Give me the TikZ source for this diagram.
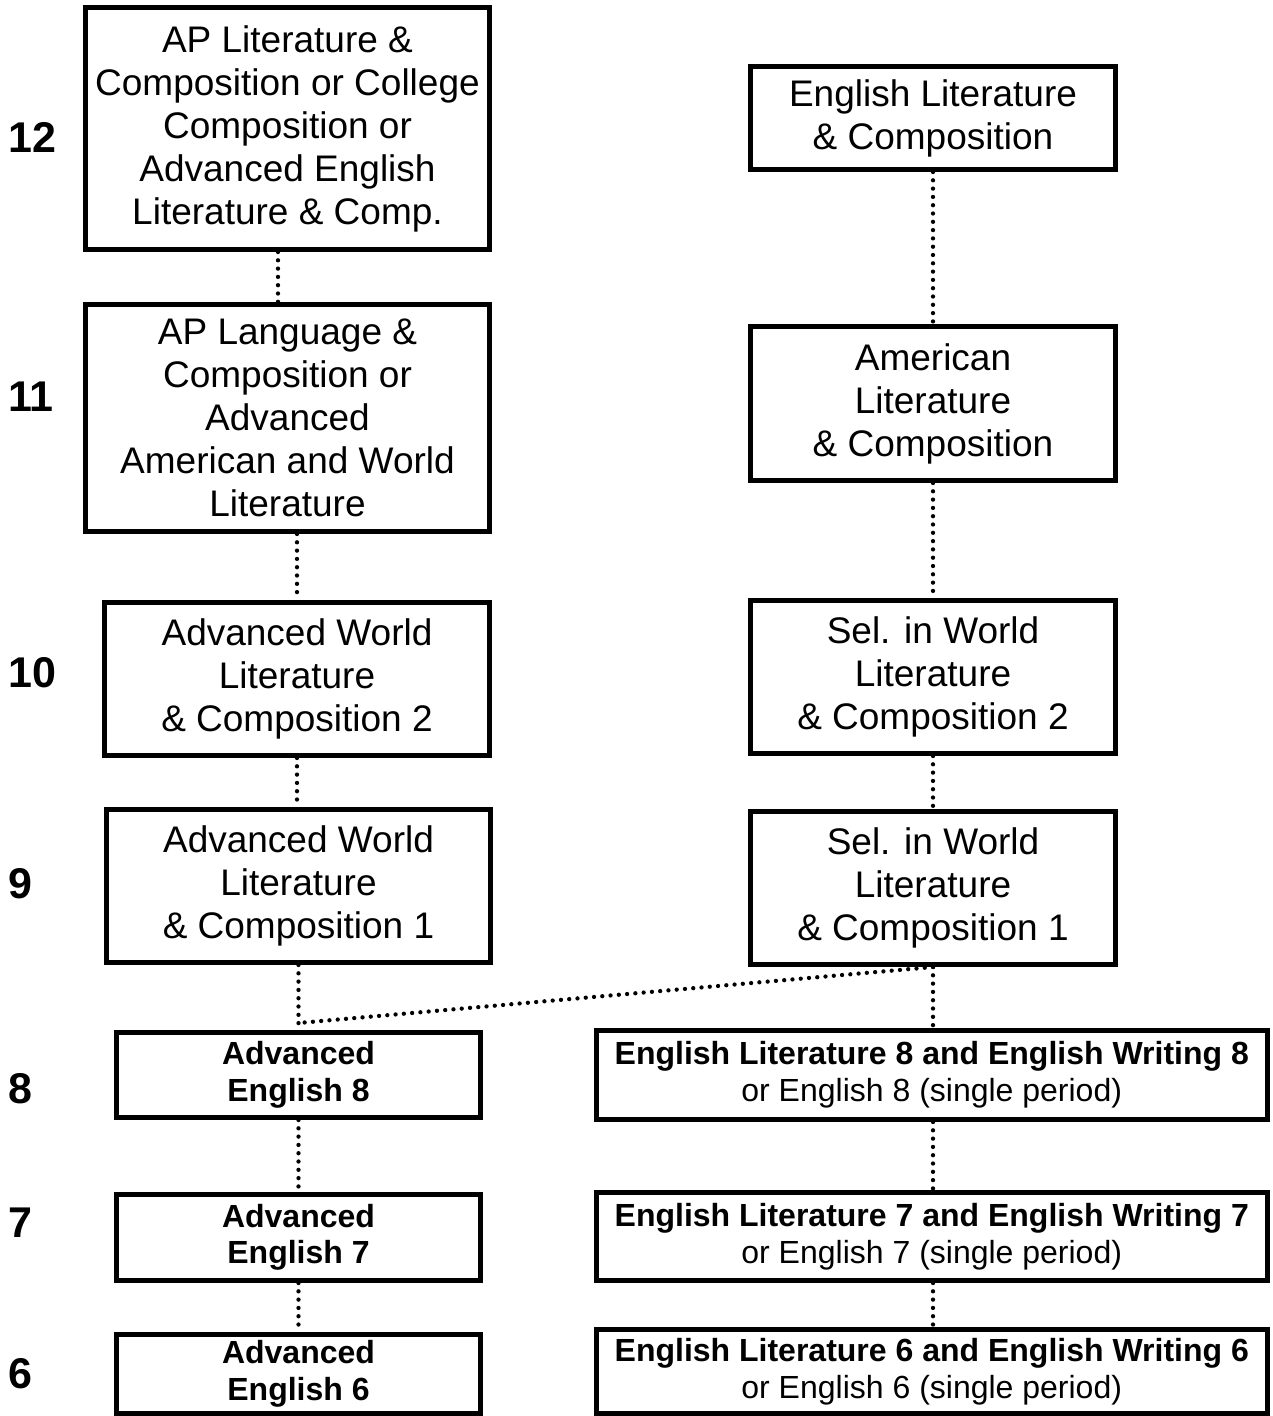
\documentclass[tikz,border=0pt]{standalone}
\usepackage{fontspec}
\setmainfont{Liberation Sans}

\newlength{\du}
\setlength{\du}{1pt}
\definecolor{dialinecolor}{rgb}{0.000000, 0.000000, 0.000000}

\tikzset{
  course/.style={draw=dialinecolor, line width=5\du, inner sep=0pt, align=center,
    font=\fontsize{37}{43}\selectfont},
  coursebold/.style={course, font=\fontsize{32}{36.5}\selectfont\bfseries},
  coursewide/.style={course, font=\fontsize{32}{37}\selectfont},
  grade/.style={anchor=base west, inner sep=0pt, font=\fontsize{43}{48}\selectfont\bfseries},
  link/.style={draw=dialinecolor, line width=4.3\du, line cap=round, dash pattern=on 0\du off 8.3\du}
}

\begin{document}
\begin{tikzpicture}[x=\du,y=-\du]
\useasboundingbox (0,0) rectangle (1273,1416);

% grades
\node[grade] (g12) at (8,152) {12};
\node[grade] (g11) at (8,411) {11};
\node[grade] (g10) at (8,687) {10};
\node[grade] (g9) at (8,898) {9};
\node[grade] (g8) at (8,1103) {8};
\node[grade] (g7) at (8,1237) {7};
\node[grade] (g6) at (8,1388) {6};

% advanced track
\node[course, minimum width=404\du, minimum height=242\du] (L12) at (287.5,128.5)
  {AP Literature \&\\Composition or College\\Composition or\\Advanced English\\Literature \& Comp.};
\node[course, minimum width=404\du, minimum height=227\du] (L11) at (287.5,418)
  {AP Language \&\\Composition or\\Advanced\\American and World\\Literature};
\node[course, minimum width=385\du, minimum height=153\du] (L10) at (297,679)
  {Advanced World\\Literature\\\& Composition 2};
\node[course, minimum width=384\du, minimum height=153\du] (L9) at (298.5,886)
  {Advanced World\\Literature\\\& Composition 1};
\node[coursebold, minimum width=364\du, minimum height=85\du] (L8) at (298.5,1075)
  {Advanced\\English 8};
\node[coursebold, minimum width=364\du, minimum height=86\du] (L7) at (298.5,1237.5)
  {Advanced\\English 7};
\node[coursebold, minimum width=364\du, minimum height=79\du] (L6) at (298.5,1374)
  {Advanced\\English 6};

% regular track
\node[course, minimum width=365\du, minimum height=103\du] (R12) at (933,118)
  {English Literature\\\& Composition};
\node[course, minimum width=365\du, minimum height=154\du] (R11) at (933,403.5)
  {American\\Literature\\\& Composition};
\node[course, minimum width=365\du, minimum height=153\du] (R10) at (933,677)
  {Sel. in World\\Literature\\\& Composition 2};
\node[course, minimum width=365\du, minimum height=153\du] (R9) at (933,888)
  {Sel. in World\\Literature\\\& Composition 1};
\node[coursewide, minimum width=671.5\du, minimum height=89\du] (R8) at (931.75,1075)
  {\textbf{English Literature 8 and English Writing 8}\\or English 8 (single period)};
\node[coursewide, minimum width=671.5\du, minimum height=88\du] (R7) at (931.75,1236.5)
  {\textbf{English Literature 7 and English Writing 7}\\or English 7 (single period)};
\node[coursewide, minimum width=671.5\du, minimum height=84\du] (R6) at (931.75,1371.5)
  {\textbf{English Literature 6 and English Writing 6}\\or English 6 (single period)};

% dotted links
\draw[link] ([xshift=-9.5\du]L12.south) -- ([xshift=-9.5\du]L11.north);
\draw[link] (L10.north |- L11.south) -- (L10.north);
\draw[link] (L10.south) -- (L10.south |- L9.north);
\draw[link] (L9.south) -- (L8.north);
\draw[link] (L8.south) -- (L7.north);
\draw[link] (L7.south) -- (L6.north);
\draw[link] (R12) -- (R11);
\draw[link] (R11) -- (R10);
\draw[link] (R10) -- (R9);
\draw[link] (R9.south) -- (R9.south |- R8.north);
\draw[link] (R9.south) -- ([yshift=7\du]L8.north);
\draw[link] (R8.south -| R9.south) -- (R7.north -| R9.south);
\draw[link] (R7.south -| R9.south) -- (R6.north -| R9.south);
\end{tikzpicture}
\end{document}
